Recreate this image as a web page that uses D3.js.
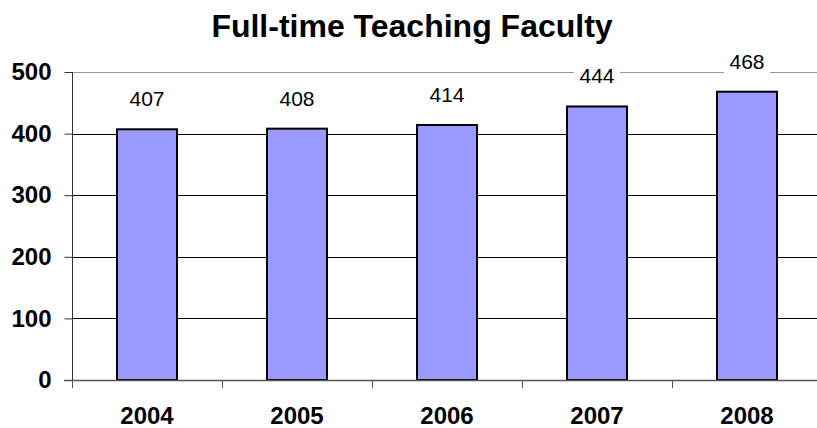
<!DOCTYPE html>
<html>
<head>
<meta charset="utf-8">
<script src="https://cdn.jsdelivr.net/npm/d3@7"></script>
<style>
  body { margin: 0; background: #fff; }
  text { font-family: "Liberation Sans", Arial, sans-serif; }
</style>
</head>
<body>
<script>
//chart data
var years = ["2004", "2005", "2006", "2007", "2008"];
var faculty = [407, 408, 414, 444, 468];
var yTicks = [0, 100, 200, 300, 400, 500];

var w = 817, h = 428;

var svg = d3.select("body")
    .append("svg")
    .attr("width", w)
    .attr("height", h)
    .attr("class", "container");

//band scale, plot runs off the right edge like the original
var x = d3.scaleBand()
    .domain(years)
    .range([72, 822])
    .paddingInner(0.6)
    .paddingOuter(0.3);

var y = d3.scaleLinear()
    .domain([0, 500])
    .range([380, 72]);

//title
svg.append("text")
    .attr("class", "title")
    .attr("x", 412)
    .attr("y", 37)
    .attr("text-anchor", "middle")
    .style("font-weight", "bold")
    .style("font-size", "32px")
    .text("Full-time Teaching Faculty");

//gridlines (top one grey)
svg.selectAll(".grid")
    .data(yTicks.filter(function(d){ return d > 0; }))
    .enter()
    .append("line")
    .attr("class", "grid")
    .attr("x1", 72)
    .attr("x2", w)
    .attr("y1", function(d){ return Math.round(y(d)) + 0.5; })
    .attr("y2", function(d){ return Math.round(y(d)) + 0.5; })
    .style("stroke", function(d){ return d === 500 ? "#999" : "#000"; })
    .style("stroke-width", 1);

//bars
svg.selectAll(".bars")
    .data(faculty)
    .enter()
    .append("rect")
    .attr("class", "bars")
    .attr("x", function(d, i){ return x(years[i]); })
    .attr("width", x.bandwidth())
    .attr("y", function(d){ return y(d); })
    .attr("height", function(d){ return y(0) - y(d); })
    .style("fill", "#9999ff")
    .style("stroke", "#000")
    .style("stroke-width", 2);

//value labels with white boxes so they mask the gridline
var labels = svg.selectAll(".labels")
    .data(faculty)
    .enter()
    .append("g")
    .attr("class", "labels")
    .attr("transform", function(d, i){
        return "translate(" + (x(years[i]) + x.bandwidth() / 2) + "," + (y(d) - 23) + ")";
    });

labels.append("rect")
    .attr("x", -23)
    .attr("y", -20)
    .attr("width", 46)
    .attr("height", 26)
    .style("fill", "#fff");

labels.append("text")
    .attr("text-anchor", "middle")
    .style("font-size", "21px")
    .text(function(d){ return d; });

//y axis
var yAxis = d3.axisLeft(y)
    .tickValues(yTicks)
    .tickSize(8)
    .tickPadding(13);

var yg = svg.append("g")
    .attr("class", "axis")
    .attr("transform", "translate(72.5,0)")
    .call(yAxis);

yg.select(".domain").attr("d", "M0,72V387").style("stroke", "#333");
yg.selectAll(".tick line").style("stroke", "#333");
yg.selectAll(".tick text")
    .style("font-size", "24px")
    .style("font-weight", "bold")
    .style("font-family", "Liberation Sans, Arial, sans-serif")
    .style("fill", "#000");

//x axis baseline and category separators
svg.append("line")
    .attr("x1", 64)
    .attr("x2", w)
    .attr("y1", 380.5)
    .attr("y2", 380.5)
    .style("stroke", "#555")
    .style("stroke-width", 1.5);

svg.selectAll(".xtick")
    .data(years)
    .enter()
    .append("line")
    .attr("class", "xtick")
    .attr("x1", function(d){ return Math.round(x(d) - x.bandwidth() * 0.75) + 0.5; })
    .attr("x2", function(d){ return Math.round(x(d) - x.bandwidth() * 0.75) + 0.5; })
    .attr("y1", 380)
    .attr("y2", 388)
    .style("stroke", "#555");

svg.selectAll(".xlabel")
    .data(years)
    .enter()
    .append("text")
    .attr("class", "xlabel")
    .attr("x", function(d){ return x(d) + x.bandwidth() / 2; })
    .attr("y", 424)
    .attr("text-anchor", "middle")
    .style("font-size", "24px")
    .style("font-weight", "bold")
    .text(function(d){ return d; });
</script>
</body>
</html>
